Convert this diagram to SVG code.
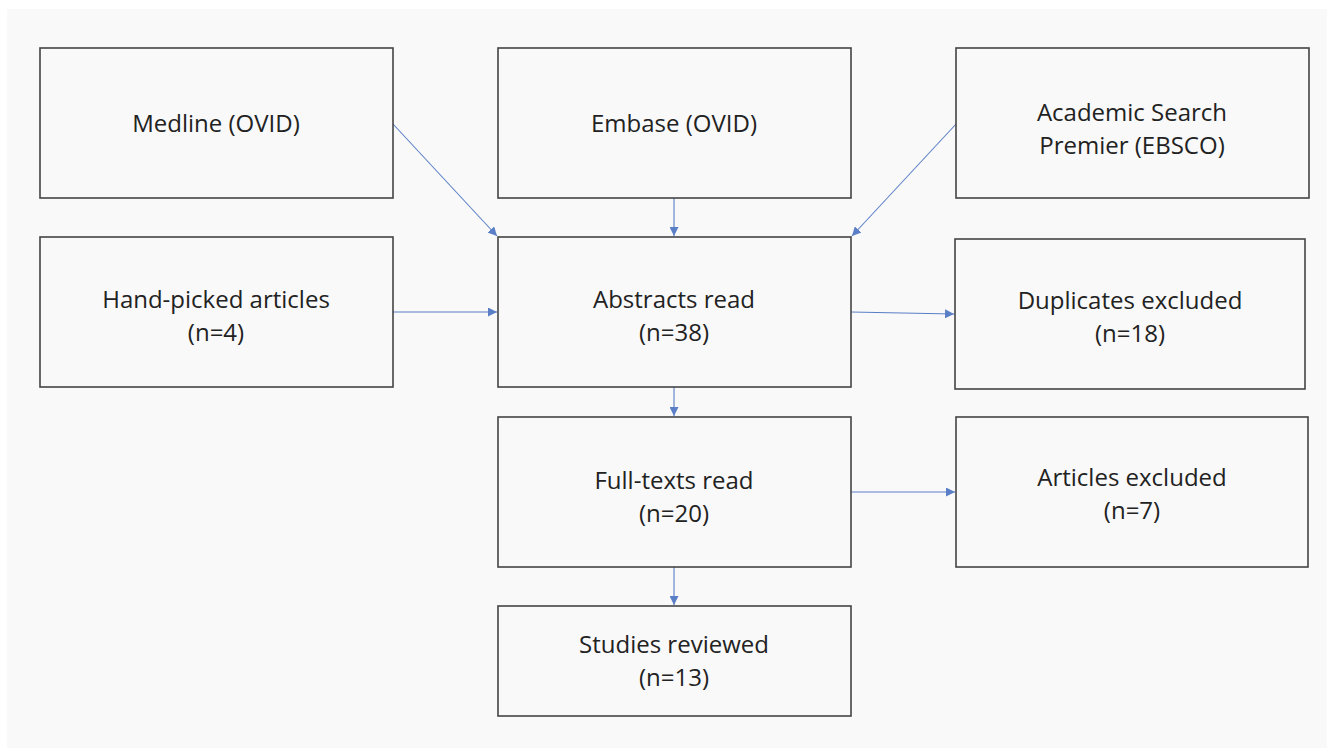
<svg xmlns="http://www.w3.org/2000/svg" width="1327" height="748" viewBox="0 0 1327 748">
<style>
.box{fill:#f9f9f9;stroke:#444;stroke-width:1.6}
.t{font-family:"Open Sans","Liberation Sans",sans-serif;font-size:24px;fill:#222;text-anchor:middle}
.c{stroke:#5b7fc7;stroke-width:1.1;fill:none;marker-end:url(#ah)}
</style>
<defs>
<marker id="ah" viewBox="0 0 10 10" refX="10" refY="5" markerWidth="9" markerHeight="9" markerUnits="userSpaceOnUse" orient="auto">
<path d="M0,0 L10,5 L0,10 z" fill="#5b7fc7"/>
</marker>
</defs>
<rect x="0" y="0" width="1327" height="748" fill="#ffffff"/>
<rect x="7" y="9" width="1320" height="739" fill="#f9f9f9"/>
<g id="connectors">
<line class="c" x1="393" y1="124" x2="497" y2="236"/>
<line class="c" x1="674" y1="198" x2="674" y2="236"/>
<line class="c" x1="957" y1="123" x2="852" y2="236"/>
<line class="c" x1="393" y1="312" x2="497" y2="312"/>
<line class="c" x1="851" y1="312" x2="954" y2="314"/>
<line class="c" x1="674" y1="387" x2="674" y2="416"/>
<line class="c" x1="851" y1="492" x2="955" y2="492"/>
<line class="c" x1="674" y1="567" x2="674" y2="605"/>
</g>
<g id="medline"><rect class="box" x="40" y="48" width="353" height="150"/><text class="t" x="216" y="132">Medline (OVID)</text></g>
<g id="embase"><rect class="box" x="498" y="48" width="353" height="150"/><text class="t" x="674" y="132">Embase (OVID)</text></g>
<g id="academic"><rect class="box" x="956" y="48" width="353" height="150"/><text class="t" x="1132" y="121">Academic Search</text><text class="t" x="1132" y="154">Premier (EBSCO)</text></g>
<g id="handpicked"><rect class="box" x="40" y="237" width="353" height="150"/><text class="t" x="216" y="308">Hand-picked articles</text><text class="t" x="216" y="341">(n=4)</text></g>
<g id="abstracts"><rect class="box" x="498" y="237" width="353" height="150"/><text class="t" x="674" y="308">Abstracts read</text><text class="t" x="674" y="341">(n=38)</text></g>
<g id="duplicates"><rect class="box" x="955" y="239" width="350" height="150"/><text class="t" x="1130" y="309">Duplicates excluded</text><text class="t" x="1130" y="342">(n=18)</text></g>
<g id="fulltexts"><rect class="box" x="498" y="417" width="353" height="150"/><text class="t" x="674" y="489">Full-texts read</text><text class="t" x="674" y="522">(n=20)</text></g>
<g id="articles"><rect class="box" x="956" y="417" width="352" height="150"/><text class="t" x="1132" y="486">Articles excluded</text><text class="t" x="1132" y="519">(n=7)</text></g>
<g id="studies"><rect class="box" x="498" y="606" width="353" height="110"/><text class="t" x="674" y="653">Studies reviewed</text><text class="t" x="674" y="686">(n=13)</text></g>
</svg>
